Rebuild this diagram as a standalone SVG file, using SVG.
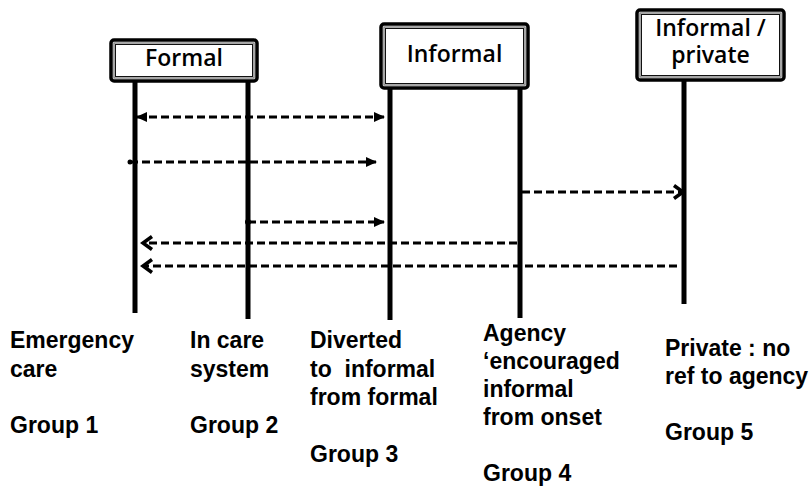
<svg xmlns="http://www.w3.org/2000/svg" width="812" height="488" viewBox="0 0 812 488">
<style>
.o{fill:#fff;stroke:#000;stroke-width:3.5}
.g{fill:none;stroke:#8a8a8a;stroke-width:1.5}
.i{fill:none;stroke:#111;stroke-width:1}
.lt{font-family:"Open Sans","Noto Sans",sans-serif;font-size:23px;font-weight:600;fill:#000;text-anchor:middle}
.life{stroke:#000;stroke-width:5}
.d{stroke:#000;stroke-width:3;stroke-dasharray:8 4;fill:none}
.t{font-family:"Liberation Sans",Arial,sans-serif;font-size:23px;font-weight:bold;fill:#000}
</style>
<defs>
<marker id="tri" markerUnits="userSpaceOnUse" markerWidth="11" markerHeight="10" refX="10" refY="5" orient="auto-start-reverse">
<path d="M0,0 L11,5 L0,10 z" fill="#000"/>
</marker>
<marker id="chev" markerUnits="userSpaceOnUse" markerWidth="14" markerHeight="16" refX="11" refY="8" orient="auto">
<path d="M2,1.5 L11,8 L2,14.5" fill="none" stroke="#000" stroke-width="3.5"/>
</marker>
</defs>
<g id="node-formal">
<rect class="o" x="111" y="40" width="146" height="41" rx="3"/>
<rect class="g" x="114" y="43" width="140" height="35"/>
<rect class="i" x="115.5" y="44.5" width="137" height="32"/>
<text class="lt" x="184" y="66">Formal</text>
<line class="life" x1="135" y1="82" x2="135" y2="313"/>
<line class="life" x1="248" y1="82" x2="248" y2="319"/>
</g>
<g id="node-informal">
<rect class="o" x="381" y="24" width="147" height="64" rx="3"/>
<rect class="g" x="384" y="27" width="141" height="58"/>
<rect class="i" x="385.5" y="28.5" width="138" height="55"/>
<text class="lt" x="454.5" y="62">Informal</text>
<line class="life" x1="390" y1="88" x2="390" y2="320"/>
<line class="life" x1="520" y1="88" x2="520" y2="318"/>
</g>
<g id="node-private">
<rect class="o" x="637" y="10" width="147" height="70" rx="3"/>
<rect class="g" x="640" y="13" width="141" height="64"/>
<rect class="i" x="641.5" y="14.5" width="138" height="61"/>
<text class="lt" x="710.5" y="36">Informal /</text>
<text class="lt" x="710.5" y="63">private</text>
<line class="life" x1="684" y1="80" x2="684" y2="304"/>
</g>
<g id="connectors">
<line class="d" x1="137" y1="117" x2="384" y2="117" marker-start="url(#tri)" marker-end="url(#tri)"/>
<circle cx="130" cy="162" r="2.5" fill="#000"/>
<line class="d" x1="130" y1="162" x2="376" y2="162" marker-end="url(#tri)"/>
<circle cx="248" cy="222" r="3" fill="#000"/>
<line class="d" x1="248" y1="222" x2="384" y2="222" marker-end="url(#tri)"/>
<line class="d" x1="522" y1="192" x2="683" y2="192" marker-end="url(#chev)"/>
<line class="d" x1="517" y1="243" x2="143" y2="243" marker-end="url(#chev)"/>
<line class="d" x1="677" y1="266" x2="143" y2="266" marker-end="url(#chev)"/>
</g>
<g id="label-group1">
<text class="t" x="10" y="348">Emergency</text>
<text class="t" x="10" y="377">care</text>
<text class="t" x="10" y="433">Group 1</text>
</g>
<g id="label-group2">
<text class="t" x="190" y="348">In care</text>
<text class="t" x="190" y="377">system</text>
<text class="t" x="190" y="433">Group 2</text>
</g>
<g id="label-group3">
<text class="t" x="310" y="348">Diverted</text>
<text class="t" x="310" y="377" xml:space="preserve">to  informal</text>
<text class="t" x="310" y="405">from formal</text>
<text class="t" x="310" y="462">Group 3</text>
</g>
<g id="label-group4">
<text class="t" x="483" y="341">Agency</text>
<text class="t" x="483" y="369">‘encouraged</text>
<text class="t" x="483" y="397">informal</text>
<text class="t" x="483" y="425">from onset</text>
<text class="t" x="483" y="481">Group 4</text>
</g>
<g id="label-group5">
<text class="t" x="665" y="356">Private : no</text>
<text class="t" x="665" y="384">ref to agency</text>
<text class="t" x="665" y="440">Group 5</text>
</g>
</svg>
